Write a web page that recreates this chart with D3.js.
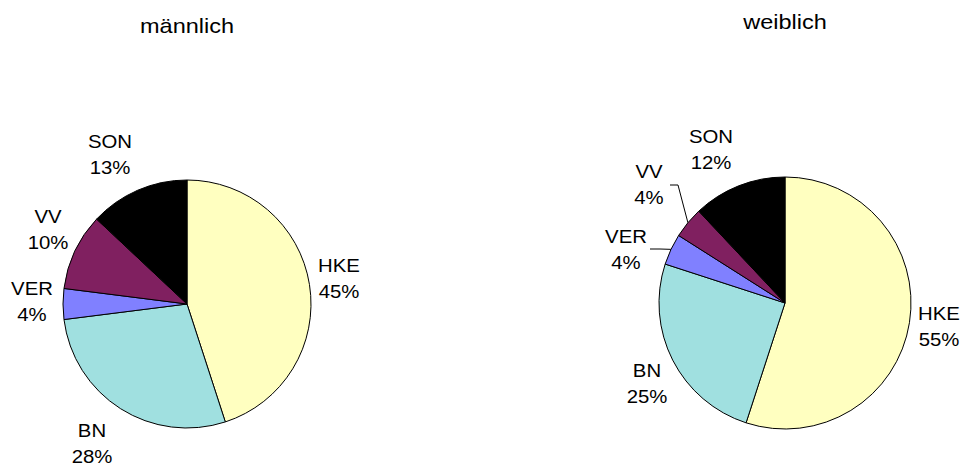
<!DOCTYPE html>
<html>
<head>
<meta charset="utf-8">
<script src="https://cdn.jsdelivr.net/npm/d3@7"></script>
<style>
  body { margin: 0; background: #fff; }
  text { font-family: "Liberation Sans", Arial, sans-serif; fill: #000; }
</style>
</head>
<body>
<div id="app"></div>
<script>
// categories and values (percent)
const categories = ["HKE", "BN", "VER", "VV", "SON"];
const maleValues = [45, 28, 4, 10, 13];
const femaleValues = [55, 25, 4, 4, 12];
const titles = ["männlich", "weiblich"];
const colors = ["#ffffc0", "#a0e0e0", "#8080ff", "#802060", "#000000"];

var w = 962, h = 467;

// layout: pie centres, radius, title and label placement (centre x, baseline y)
const layout = [
  { cx: 187, cy: 304, r: 124, titleY: 33,
    labels: [[339, 272], [92, 437], [32, 295], [48, 223], [110, 148]],
    leaders: [null, null, null, null, null] },
  { cx: 785, cy: 303, r: 126, titleY: 29,
    labels: [[939, 320], [647, 377], [626, 243], [649, 178], [711, 143]],
    leaders: [null, null, [[650, 249], [660, 249]], [[670, 185], [678, 185]], null] }
];
const lineGap = 27;

const svg = d3.select("#app")
  .append("svg")
  .attr("width", w)
  .attr("height", h);

const pie = d3.pie().sort(null).startAngle(0).endAngle(2 * Math.PI);

[maleValues, femaleValues].forEach((vals, k) => {
  const L = layout[k];
  const data = vals.map((v, i) => ({ name: categories[i], value: v, color: colors[i] }));
  const arcs = pie.value(d => d.value)(data);
  const arc = d3.arc().innerRadius(0).outerRadius(L.r);
  const edge = d3.arc().innerRadius(L.r).outerRadius(L.r);

  const g = svg.append("g").attr("transform", "translate(" + L.cx + "," + L.cy + ")");
  g.selectAll(".slice")
    .data(arcs)
    .enter()
    .append("path")
    .attr("class", "slice")
    .attr("d", arc)
    .attr("fill", d => d.data.color)
    .attr("stroke", "#000")
    .attr("stroke-width", 1);

  // titles
  svg.append("text")
    .attr("transform", "translate(" + L.cx + "," + L.titleY + ") scale(1.12,1)")
    .attr("text-anchor", "middle")
    .style("font-size", "21px")
    .text(titles[k]);

  // leader lines
  arcs.forEach((a, i) => {
    const pts = L.leaders[i];
    if (!pts) return;
    const c = edge.centroid(a);
    const all = pts.concat([[L.cx + c[0], L.cy + c[1]]]);
    svg.append("path")
      .attr("d", d3.line()(all))
      .attr("fill", "none")
      .attr("stroke", "#000")
      .attr("stroke-width", 1);
  });

  // labels
  arcs.forEach((a, i) => {
    const p = L.labels[i];
    const t = svg.append("g").attr("transform", "translate(" + p[0] + "," + p[1] + ") scale(1.1,1)");
    t.append("text")
      .attr("text-anchor", "middle")
      .style("font-size", "18.5px")
      .text(a.data.name);
    t.append("text")
      .attr("text-anchor", "middle")
      .attr("y", lineGap - 1)
      .style("font-size", "18.5px")
      .text(a.data.value + "%");
  });
});
</script>
</body>
</html>
